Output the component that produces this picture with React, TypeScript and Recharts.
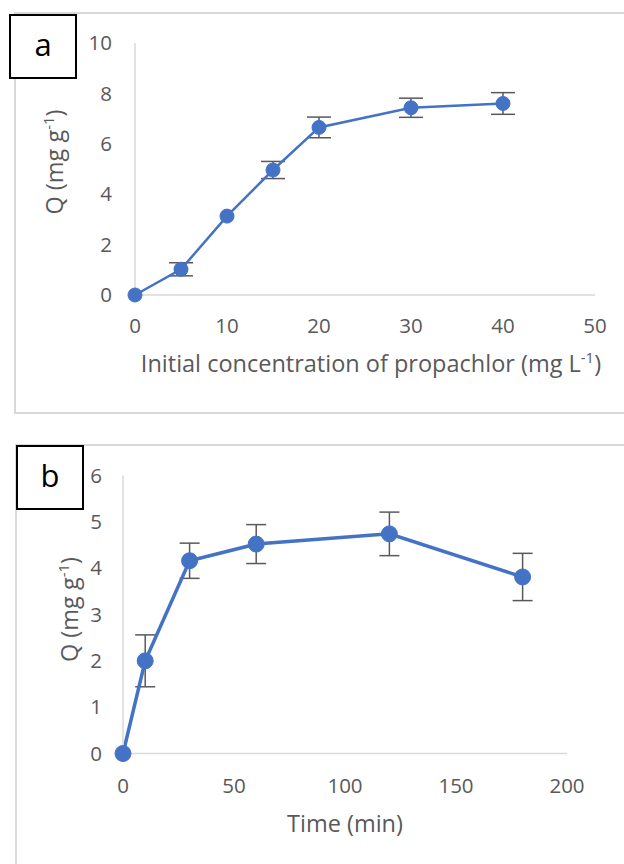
import React from 'react';
import { LineChart, Line, XAxis, YAxis, ErrorBar } from 'recharts';

// (a) adsorbed amount vs initial propachlor concentration
// null = bar too small to show past the marker
const concX = [0, 5, 10, 15, 20, 30, 40];
const concQ = [0, 1.02, 3.13, 4.96, 6.65, 7.43, 7.6];
const concErr = [null, 0.26, null, 0.34, 0.41, 0.38, 0.43];
const concTicksX = [0, 10, 20, 30, 40, 50];
const concTicksY = [0, 2, 4, 6, 8, 10];

// (b) adsorbed amount vs contact time
const timeX = [0, 10, 30, 60, 120, 180];
const timeQ = [0, 2.0, 4.16, 4.52, 4.74, 3.81];
const timeErr = [null, 0.56, 0.38, 0.42, 0.47, 0.51];
const timeTicksX = [0, 50, 100, 150, 200];
const timeTicksY = [0, 1, 2, 3, 4, 5, 6];

const FONT = '"Open Sans", "Noto Sans", sans-serif';
const GRAY = '#595959';
const AXIS = '#d9d9d9';
const BLUE = '#4472C4';
const TICK_FS = 20.5;
const TITLE_FS = 23.5;

const toRows = (xs: number[], qs: number[], errs: (number | null)[]) =>
  xs.map((x, i) => ({ x, q: qs[i], err: errs[i] }));

const tickStyle = { fill: GRAY, fontSize: TICK_FS, fontFamily: FONT };

// axis title with a "-1" superscript before the closing bracket
const SupText = ({ head, ...rest }: any) => (
  <text fill={GRAY} fontSize={TITLE_FS} fontFamily={FONT} textAnchor="middle" {...rest}>
    {head}
    <tspan dy={-9} fontSize={15}>-1</tspan>
    <tspan dy={9}>)</tspan>
  </text>
);

const xTitle = (head: string, dx: number, dy: number, plain = false) => (props: any) => {
  const vb = props.viewBox;
  const x = vb.x + vb.width / 2 + dx;
  const y = vb.y + dy;
  if (plain)
    return (
      <text x={x} y={y} fill={GRAY} fontSize={TITLE_FS} fontFamily={FONT} textAnchor="middle">
        {head}
      </text>
    );
  return <SupText head={head} x={x} y={y} />;
};

const yTitle = (baseX: number, dy: number) => (props: any) => {
  const vb = props.viewBox;
  const cy = vb.y + vb.height / 2 + dy;
  return <SupText head="Q (mg g" x={baseX} y={cy} transform={`rotate(-90, ${baseX}, ${cy})`} />;
};

const Frame = ({ top, left, height }: any) => (
  <div
    style={{
      position: 'absolute',
      top,
      left,
      width: 700,
      height,
      border: `2px solid ${AXIS}`,
      boxSizing: 'border-box',
    }}
  />
);

const Tag = ({ top, left, text }: any) => (
  <div
    style={{
      position: 'absolute',
      top,
      left,
      width: 68,
      height: 65,
      border: '2px solid #000',
      boxSizing: 'border-box',
      background: '#fff',
      display: 'flex',
      alignItems: 'center',
      justifyContent: 'center',
      fontFamily: FONT,
      fontSize: 31,
      lineHeight: 1,
      paddingBottom: 4,
      color: '#000',
      zIndex: 2,
    }}
  >
    {text}
  </div>
);

// the line + error bars first, then the markers on top of them
const Series = (width: number, r: number, capWidth: number) => [
  <Line
    key="curve"
    dataKey="q"
    stroke={BLUE}
    strokeWidth={width}
    dot={false}
    activeDot={false}
    isAnimationActive={false}
  >
    <ErrorBar dataKey="err" direction="y" width={capWidth} stroke={GRAY} strokeWidth={1.5} />
  </Line>,
  <Line
    key="marks"
    dataKey="q"
    stroke="none"
    dot={{ r, fill: BLUE, stroke: BLUE, strokeWidth: 1 }}
    activeDot={false}
    isAnimationActive={false}
  />,
];

export default function App() {
  const concRows = toRows(concX, concQ, concErr);
  const timeRows = toRows(timeX, timeQ, timeErr);

  return (
    <div
      style={{
        position: 'absolute',
        left: 0,
        top: 0,
        width: 624,
        height: 864,
        overflow: 'hidden',
        background: '#fff',
      }}
    >
      <Frame top={12} left={14} height={402} />
      <Frame top={444} left={15} height={500} />

      <div style={{ position: 'absolute', left: 0, top: 0, zIndex: 1 }}>
        <LineChart width={624} height={413} data={concRows} margin={{ top: 43, right: 29, left: 0, bottom: 0 }}>
          <XAxis
            dataKey="x"
            type="number"
            domain={[0, 50]}
            ticks={concTicksX}
            tickLine={false}
            tickSize={0}
            tickMargin={23}
            stroke={AXIS}
            strokeWidth={1.5}
            tick={tickStyle}
            height={118}
            label={{ content: xTitle('Initial concentration of propachlor (mg L', 6, 77) }}
          />
          <YAxis
            type="number"
            domain={[0, 10]}
            ticks={concTicksY}
            tickLine={false}
            tickSize={0}
            tickMargin={23}
            stroke={AXIS}
            strokeWidth={1.5}
            tick={tickStyle}
            width={135}
            label={{ content: yTitle(63, -7) }}
          />
          {Series(2.5, 7, 12)}
        </LineChart>
      </div>

      <div style={{ position: 'absolute', left: 0, top: 430, zIndex: 1 }}>
        <LineChart width={624} height={434} data={timeRows} margin={{ top: 45.5, right: 57, left: 0, bottom: 0 }}>
          <XAxis
            dataKey="x"
            type="number"
            domain={[0, 200]}
            ticks={timeTicksX}
            tickLine={false}
            tickSize={0}
            tickMargin={25}
            stroke={AXIS}
            strokeWidth={1.5}
            tick={tickStyle}
            height={110.5}
            label={{ content: xTitle('Time (min)', 0, 78, true) }}
          />
          <YAxis
            type="number"
            domain={[0, 6]}
            ticks={timeTicksY}
            tickLine={false}
            tickSize={0}
            tickMargin={21}
            stroke={AXIS}
            strokeWidth={1.5}
            tick={tickStyle}
            width={123}
            label={{ content: yTitle(78, -5) }}
          />
          {Series(3.5, 8, 10)}
        </LineChart>
      </div>

      <Tag top={14} left={9} text="a" />
      <Tag top={445} left={16} text="b" />
    </div>
  );
}
